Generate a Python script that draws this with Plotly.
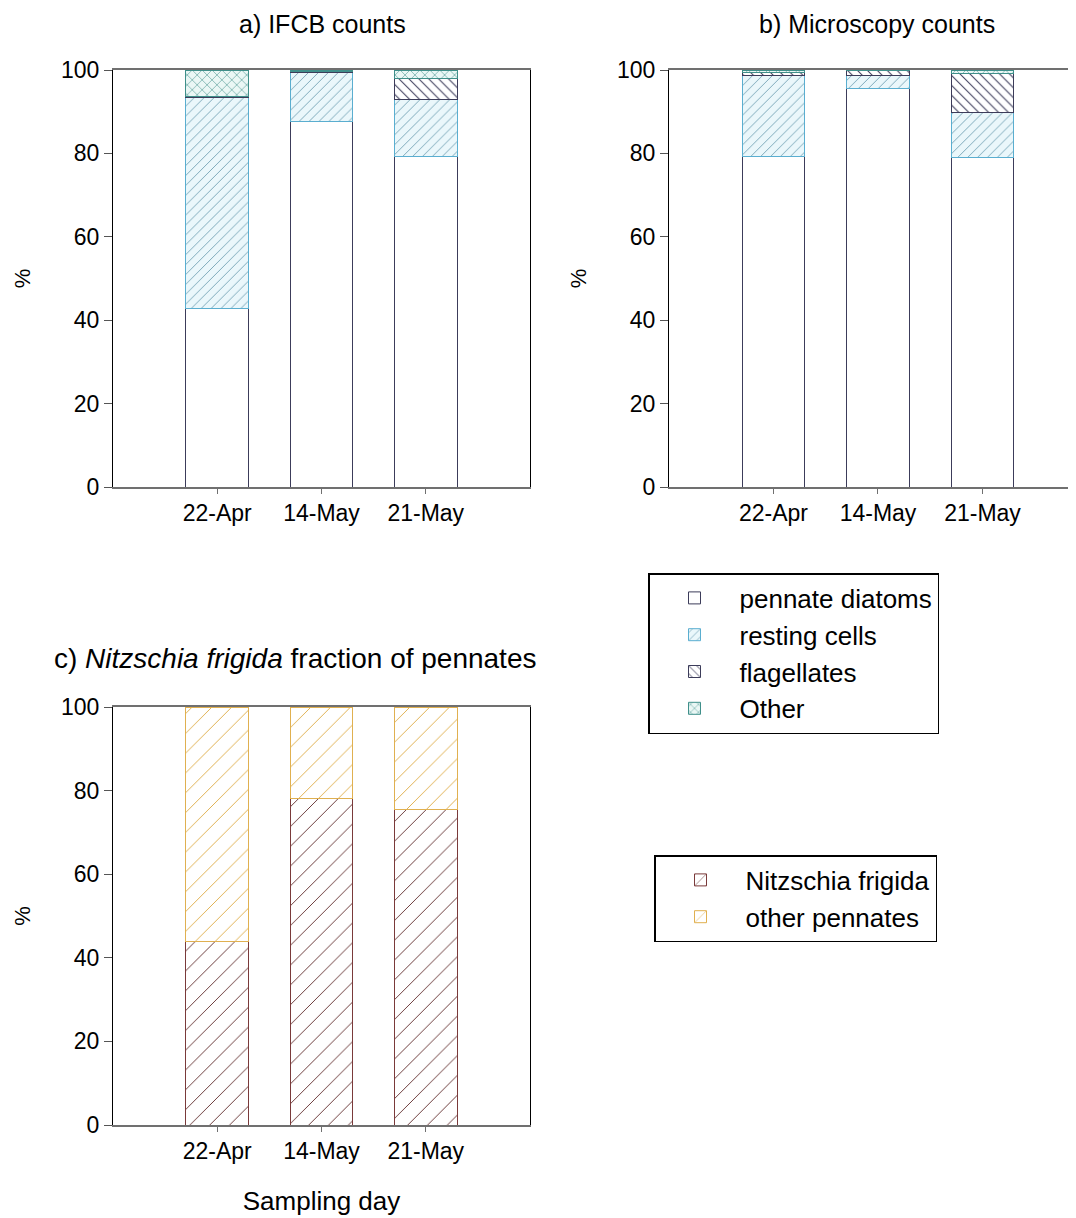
import plotly.graph_objects as go

days = ["22-Apr", "14-May", "21-May"]

# Panel a) IFCB counts (%)
ifcb_pennate = [42.9, 87.7, 79.2]
ifcb_resting = [50.4, 11.7, 13.8]
ifcb_flag = [0.3, 0.3, 5.0]
ifcb_other = [6.4, 0.3, 2.0]

# Panel b) Microscopy counts (%)
mic_pennate = [79.2, 95.6, 79.1]
mic_resting = [19.6, 3.0, 10.8]
mic_flag = [0.7, 1.2, 9.3]
mic_other = [0.5, 0.2, 0.8]

# Panel c) Nitzschia frigida fraction of pennates (%)
nf_frac = [44.0, 78.2, 75.4]
other_pennates = [56.0, 21.8, 24.6]

FONT = "Arial, Liberation Sans, sans-serif"

styles = {
    "pennate diatoms": dict(color="white", line=dict(color="#3c3c5a", width=1)),
    "resting cells": dict(color="#eaf7fb", line=dict(color="#5aaed0", width=1),
                          pattern=dict(shape="/", fgcolor="#6a9cb0", bgcolor="#eaf7fb",
                                       size=7, solidity=0.12, fillmode="replace")),
    "flagellates": dict(color="white", line=dict(color="#3c3c5a", width=1),
                        pattern=dict(shape="\\", fgcolor="#3c3c5a", bgcolor="white",
                                     size=7, solidity=0.15, fillmode="replace")),
    "Other": dict(color="#eaf7f5", line=dict(color="#3f8f8a", width=1),
                  pattern=dict(shape="x", fgcolor="#3f8f8a", bgcolor="#eaf7f5",
                               size=7, solidity=0.15, fillmode="replace")),
    "Nitzschia frigida": dict(color="white", line=dict(color="#7a3a3a", width=1),
                              pattern=dict(shape="/", fgcolor="#6a3a3a", bgcolor="white",
                                           size=14, solidity=0.07, fillmode="replace")),
    "other pennates": dict(color="white", line=dict(color="#e0b050", width=1),
                           pattern=dict(shape="/", fgcolor="#e0b050", bgcolor="white",
                                        size=14, solidity=0.07, fillmode="replace")),
}

fig = go.Figure()

def add(vals, name, xa, ya, legend, show):
    fig.add_trace(go.Bar(x=days, y=vals, name=name, marker=styles[name], width=0.6,
                         xaxis=xa, yaxis=ya, legend=legend, showlegend=show))

for vals, name in [(ifcb_pennate, "pennate diatoms"), (ifcb_resting, "resting cells"),
                   (ifcb_flag, "flagellates"), (ifcb_other, "Other")]:
    add(vals, name, "x", "y", "legend", True)
for vals, name in [(mic_pennate, "pennate diatoms"), (mic_resting, "resting cells"),
                   (mic_flag, "flagellates"), (mic_other, "Other")]:
    add(vals, name, "x2", "y2", "legend", False)
add(nf_frac, "Nitzschia frigida", "x3", "y3", "legend2", True)
add(other_pennates, "other pennates", "x3", "y3", "legend2", True)

OFF = 8  # default page body margin
W, H = 1068, 1210
def px(x):
    return (x - OFF) / W
def py(y):
    return 1 - (y - OFF) / H
def dx(a, b):
    return [px(a), px(b)]
def dy(top, bot):
    return [py(bot), py(top)]

TICK = 23
xcommon = dict(type="category", showline=True, linecolor="#707070", linewidth=1.5, mirror=True,
               ticks="outside", ticklen=5, tickcolor="#707070",
               tickfont=dict(family=FONT, size=TICK, color="black"), showgrid=False, zeroline=False)
ycommon = dict(range=[0, 100], dtick=20, showline=True, linecolor="black", linewidth=1.2, mirror=True,
               ticks="outside", ticklen=8, tickcolor="#555555",
               tickfont=dict(family=FONT, size=TICK, color="black"), showgrid=False, zeroline=False,
               title=dict(text="%", font=dict(family=FONT, size=22, color="black"), standoff=24))

fig.update_layout(
    width=W, height=H, barmode="stack", plot_bgcolor="white", paper_bgcolor="white",
    margin=dict(l=0, r=0, t=0, b=0, autoexpand=False),
    font=dict(family=FONT, color="black"),
    xaxis=dict(xcommon, domain=dx(113, 530), range=[-1, 3], anchor="y"),
    yaxis=dict(ycommon, domain=dy(70, 487), anchor="x"),
    xaxis2=dict(xcommon, domain=[px(669), 1], range=[-1, 2.895], anchor="y2"),
    yaxis2=dict(ycommon, domain=dy(70, 487), anchor="x2"),
    xaxis3=dict(xcommon, domain=dx(113, 530), range=[-1, 3], anchor="y3",
                title=dict(text="Sampling day", font=dict(family=FONT, size=26, color="black"), standoff=28)),
    yaxis3=dict(ycommon, domain=dy(707, 1125), anchor="x3"),
    legend=dict(x=px(648), y=py(573), xanchor="left", yanchor="top",
                bordercolor="black", borderwidth=1.5, bgcolor="white",
                font=dict(family=FONT, size=26, color="black"), traceorder="normal",
                itemwidth=80),
    legend2=dict(x=px(654), y=py(855), xanchor="left", yanchor="top",
                 bordercolor="black", borderwidth=1.5, bgcolor="white",
                 font=dict(family=FONT, size=26, color="black"), traceorder="normal",
                 itemwidth=80),
    annotations=[
        dict(text="a) IFCB counts", x=px(322), y=1, xref="paper", yref="paper",
             xanchor="center", yanchor="top",
             showarrow=False, font=dict(family=FONT, size=25, color="black")),
        dict(text="b) Microscopy counts", x=px(877), y=1, xref="paper", yref="paper",
             xanchor="center", yanchor="top",
             showarrow=False, font=dict(family=FONT, size=25, color="black")),
        dict(text="c) <i>Nitzschia frigida</i> fraction of pennates", x=px(295), y=py(658),
             xref="paper", yref="paper", showarrow=False, xanchor="center", yanchor="middle",
             font=dict(family=FONT, size=28, color="black")),
    ],
)

fig.write_html("out.html")
